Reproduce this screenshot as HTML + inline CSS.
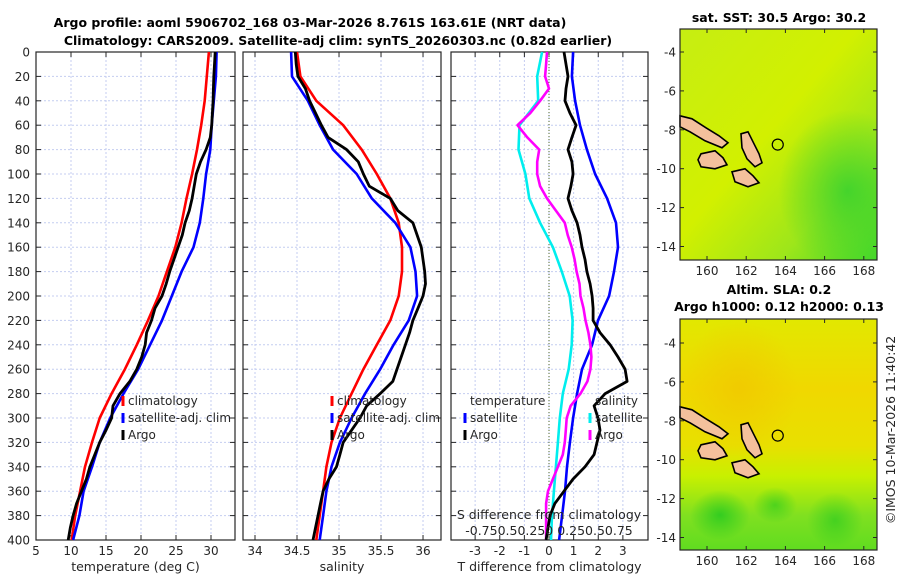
<!DOCTYPE html>
<html><head><meta charset="utf-8">
<style>
html,body{margin:0;padding:0;background:#fff;}
svg{display:block;font-family:"DejaVu Sans","Liberation Sans",sans-serif;}
</style></head>
<body>
<svg id="fig" width="900" height="580" viewBox="0 0 900 580">
<defs>
<linearGradient id="sstGrad" x1="0" y1="0" x2="1" y2="1">
<stop offset="0" stop-color="#c6ee12"/><stop offset="0.45" stop-color="#d2f000"/><stop offset="0.75" stop-color="#9ee61a"/><stop offset="1" stop-color="#44d82a"/>
</linearGradient>
<radialGradient id="sstGreen" cx="0.85" cy="0.7" r="0.35"><stop offset="0" stop-color="#30d030" stop-opacity="0.8"/><stop offset="1" stop-color="#30d030" stop-opacity="0"/></radialGradient>
<linearGradient id="slaGrad" x1="0" y1="0" x2="0" y2="1">
<stop offset="0" stop-color="#e2e800"/><stop offset="0.3" stop-color="#f0d800"/><stop offset="0.55" stop-color="#e8e000"/><stop offset="0.68" stop-color="#c8f000"/><stop offset="0.85" stop-color="#80e020"/><stop offset="1" stop-color="#60dc20"/>
</linearGradient>
<radialGradient id="slaOr" cx="0.3" cy="0.3" r="0.3"><stop offset="0" stop-color="#f0c800" stop-opacity="0.8"/><stop offset="1" stop-color="#f0c800" stop-opacity="0"/></radialGradient>
<radialGradient id="slaG1" cx="0.5" cy="0.5" r="0.5"><stop offset="0" stop-color="#20c820"/><stop offset="1" stop-color="#20c820" stop-opacity="0"/></radialGradient>
</defs>
<g id="root"></g>
</svg>
<script>
// ---------- data ----------
const depths20 = [0,20,40,60,80,100,120,140,160,180,200,220,240,260,280,300,320,340,360,380,400];
const depths10 = [0,10,20,30,40,50,60,70,80,90,100,110,120,130,140,150,160,170,180,190,200,210,220,230,240,250,260,270,280,290,300,310,320,330,340,350,360,370,380,390,400];
const tempClim = [29.7,29.4,29.1,28.6,28.0,27.3,26.5,25.8,24.9,23.7,22.5,21.0,19.4,17.7,15.8,14.1,13.0,12.0,11.3,10.6,10.1];
const tempSat  = [30.8,30.7,30.4,30.1,29.9,29.3,28.9,28.4,27.5,25.8,24.4,23.0,21.3,19.6,17.5,15.6,14.1,13.0,11.8,11.2,10.3];
const tempArgo = [30.6,30.5,30.4,30.35,30.3,30.2,30.1,29.9,29.3,28.5,27.9,27.6,27.3,26.9,26.3,25.9,25.3,24.7,24.1,23.6,23.0,22.0,21.5,20.8,20.6,20.1,19.4,18.4,17.0,16.0,15.8,15.0,14.1,13.4,12.7,12.2,11.5,10.8,10.3,9.9,9.6];
const salClim = [34.50,34.54,34.73,35.05,35.27,35.45,35.61,35.71,35.75,35.75,35.71,35.61,35.45,35.29,35.15,35.01,34.91,34.85,34.81,34.77,34.73];
const salSat  = [34.43,34.44,34.63,34.77,34.93,35.21,35.39,35.67,35.85,35.91,35.93,35.83,35.65,35.49,35.31,35.15,35.01,34.91,34.85,34.81,34.77];
const salArgo = [34.48,34.49,34.51,34.60,34.65,34.72,34.79,34.87,35.09,35.23,35.29,35.36,35.61,35.70,35.88,35.93,35.98,36.00,36.02,36.03,36.00,35.94,35.88,35.84,35.79,35.74,35.69,35.64,35.49,35.33,35.25,35.15,35.05,35.01,34.97,34.88,34.81,34.78,34.75,34.72,34.69];
const tDiffSat  = [0.98,0.93,1.06,1.26,1.54,1.87,2.36,2.72,2.80,2.64,2.44,1.99,1.75,1.34,1.14,0.98,0.85,0.73,0.65,0.53,0.41];
const tDiffArgo = [0.61,0.69,0.77,0.69,0.65,0.85,1.10,0.93,0.77,0.93,0.98,0.89,0.77,0.93,1.14,1.26,1.34,1.46,1.54,1.67,1.75,1.79,1.79,2.07,2.48,2.80,3.09,3.17,2.28,1.83,1.99,2.07,1.95,1.83,1.46,0.98,0.61,0.24,0.04,-0.04,-0.12];
const sDiffSat  = [-0.07,-0.12,-0.11,-0.30,-0.31,-0.24,-0.20,-0.09,0.04,0.13,0.21,0.24,0.23,0.20,0.14,0.11,0.09,0.07,0.05,0.03,0.02];
const sDiffArgo = [-0.02,-0.03,-0.04,0,-0.09,-0.19,-0.32,-0.22,-0.10,-0.12,-0.12,-0.09,-0.02,0.07,0.16,0.19,0.23,0.26,0.28,0.31,0.32,0.35,0.37,0.40,0.42,0.43,0.42,0.39,0.32,0.22,0.18,0.17,0.16,0.14,0.09,0.04,-0.01,-0.03,-0.03,-0.03,-0.03];
const depthTicks = [0,20,40,60,80,100,120,140,160,180,200,220,240,260,280,300,320,340,360,380,400];
const tempTicks = [5,10,15,20,25,30];
const salTicks = [34,34.5,35,35.5,36];
const salTickLabels = ["34","34.5","35","35.5","36"];
const diffTicks = [-3,-2,-1,0,1,2,3];
const sstLonTicks = [160,162,164,166,168];
const sstLatTicks = [-4,-6,-8,-10,-12,-14];

// ---------- helpers ----------
const NS="http://www.w3.org/2000/svg";
const root=document.getElementById('root');
function el(tag,attrs,parent){const e=document.createElementNS(NS,tag);for(const k in attrs)e.setAttribute(k,attrs[k]);(parent||root).appendChild(e);return e;}
function txt(s,attrs,parent){const e=el('text',attrs,parent);e.textContent=s;return e;}

const Y0=52, Y1=540;
const yScale=d=>Y0+(Y1-Y0)*d/400;
const FS=12;

function panel(name,x0,x1,vmin,vmax,ticks,labels,xlabel){
  const g=el('g',{});
  
  
  const xs=v=>x0+(x1-x0)*(v-vmin)/(vmax-vmin);
  depthTicks.forEach(d=>{const l=el('line',{x1:x0,x2:x1,y1:yScale(d),y2:yScale(d),stroke:'#c4cdf0','stroke-width':1,'stroke-dasharray':'2,2'},g);
    });
  ticks.forEach((t,i)=>{const l=el('line',{x1:xs(t),x2:xs(t),y1:Y0,y2:Y1,stroke:'#c4cdf0','stroke-width':1,'stroke-dasharray':'2,2'},g);
    
    el('line',{x1:xs(t),x2:xs(t),y1:Y1,y2:Y1-5,stroke:'#262626'},g);
    el('line',{x1:xs(t),x2:xs(t),y1:Y0,y2:Y0+5,stroke:'#262626'},g);
    const tl=txt(labels[i],{x:xs(t),y:555,'text-anchor':'middle','font-size':FS,fill:'#262626'},g);
    });
  depthTicks.forEach(d=>{el('line',{x1:x0,x2:x0+5,y1:yScale(d),y2:yScale(d),stroke:'#262626'},g);
    el('line',{x1:x1,x2:x1-5,y1:yScale(d),y2:yScale(d),stroke:'#262626'},g);});
  el('rect',{x:x0,y:Y0,width:x1-x0,height:Y1-Y0,fill:'none',stroke:'#262626','stroke-width':1.2},g);
  const xl=txt(xlabel,{x:(x0+x1)/2,y:571,'text-anchor':'middle','font-size':12.5,fill:'#262626'},g);
  
  return {g,xs};
}
function series(p,name,deps,vals,color,scale,w){
  const pts=vals.map((v,i)=>p.xs(v*(scale||1)).toFixed(1)+','+yScale(deps[i]).toFixed(1)).join(' ');
  const l=el('polyline',{points:pts,fill:'none',stroke:color,'stroke-width':w||2.6,'stroke-linejoin':'round'},p.g);
  
  
}
function legendEntry(p,name,x,y,color,label){
  const g=el('g',{},p.g);
  
  
  el('line',{x1:x,x2:x,y1:y-9,y2:y+1,stroke:color,'stroke-width':3},g);
  txt(label,{x:x+5,y:y,'font-size':FS,fill:'#262626'},g);
}

depthTicks.forEach(d=>{const t=txt(String(d),{x:30,y:yScale(d)+4.5,'text-anchor':'end','font-size':FS,fill:'#262626'});
  });

const p1=panel('temperature-panel',36,235,5,33.43,tempTicks,tempTicks.map(String),'temperature (deg C)');
series(p1,'temp-climatology-line',depths20,tempClim,'#ff0000');
series(p1,'temp-satellite-line',depths20,tempSat,'#0000ff');
series(p1,'temp-argo-line',depths10,tempArgo,'#000000',1,2.8);
legendEntry(p1,'legend-climatology',123,405,'#ff0000','climatology');
legendEntry(p1,'legend-satellite-adj',123,422,'#0000ff','satellite-adj. clim');
legendEntry(p1,'legend-argo',123,439,'#000000','Argo');

const p2=panel('salinity-panel',243,441,33.857,36.214,salTicks,salTickLabels,'salinity');
series(p2,'sal-climatology-line',depths20,salClim,'#ff0000');
series(p2,'sal-satellite-line',depths20,salSat,'#0000ff');
series(p2,'sal-argo-line',depths10,salArgo,'#000000',1,2.8);
legendEntry(p2,'legend-climatology-sal',332,405,'#ff0000','climatology');
legendEntry(p2,'legend-satellite-adj-sal',332,422,'#0000ff','satellite-adj. clim');
legendEntry(p2,'legend-argo-sal',332,439,'#000000','Argo');

const p3=panel('difference-panel',451,648,-3.98,4.02,diffTicks,diffTicks.map(String),'T difference from climatology');
const zl=el('line',{x1:p3.xs(0),x2:p3.xs(0),y1:Y0,y2:Y1,stroke:'#556b2f','stroke-width':1,'stroke-dasharray':'1,2'},p3.g);

series(p3,'tdiff-satellite-line',depths20,tDiffSat,'#0000ff');
series(p3,'sdiff-satellite-line',depths20,sDiffSat,'#00eeee',4);
series(p3,'sdiff-argo-line',depths10,sDiffArgo,'#ff00ff',4);
series(p3,'tdiff-argo-line',depths10,tDiffArgo,'#000000',1,2.8);
(function(){const t=txt('temperature',{x:470,y:405,'font-size':FS,fill:'#262626'},p3.g);
 const s=txt('salinity',{x:595,y:405,'font-size':FS,fill:'#262626'},p3.g);})();
legendEntry(p3,'legend-t-satellite',465,422,'#0000ff','satellite');
legendEntry(p3,'legend-t-argo',465,439,'#000000','Argo');
legendEntry(p3,'legend-s-satellite',590,422,'#00eeee','satellite');
legendEntry(p3,'legend-s-argo',590,439,'#ff00ff','Argo');
(function(){const a=txt('S difference from climatology',{x:549,y:519,'text-anchor':'middle','font-size':12.5,fill:'#262626'},p3.g);
 const b=txt('-0.750.50.250 0.250.50.75',{x:549,y:535,'text-anchor':'middle','font-size':12.5,fill:'#262626'},p3.g);})();

(function(){const t1=txt('Argo profile: aoml 5906702_168 03-Mar-2026 8.761S 163.61E (NRT data)',{x:310,y:27,'text-anchor':'middle','font-size':12.5,'font-weight':'bold',fill:'#000'});
 
 const t2=txt('Climatology: CARS2009. Satellite-adj clim: synTS_20260303.nc (0.82d earlier)',{x:338,y:45,'text-anchor':'middle','font-size':12.5,'font-weight':'bold',fill:'#000'});
 })();

function map(name,top,bottom,latTopPx,fillId,extra,titles){
  const x0=680,x1=877;
  const g=el('g',{});
  
  
  const lonX=lon=>707+(lon-160)*19.6;
  const latY=lat=>latTopPx+(-4-lat)*19.45;
  el('rect',{x:x0,y:top,width:x1-x0,height:bottom-top,fill:'url(#'+fillId+')'},g);
  extra(g,x0,top,x1,bottom);
  const dy=latY(-8)-130;
  const isl=[[[680,116],[692,119],[706,128],[719,136],[728,143],[722,148],[705,141],[690,132],[680,127]],
   [[741,134],[748,132],[754,144],[759,154],[762,163],[755,167],[747,159],[742,148]],
   [[701,154],[715,151],[723,158],[727,165],[715,169],[701,167],[698,160]],
   [[732,172],[745,169],[753,176],[759,183],[748,187],[735,182]]];
  isl.forEach(poly=>{const p=el('polygon',{points:poly.map(q=>q[0]+','+(q[1]+dy)).join(' '),fill:'#f4c09c',stroke:'#000','stroke-width':1.6},g);
    });
  const c=el('circle',{cx:lonX(163.61),cy:latY(-8.761),r:5.5,fill:'none',stroke:'#000','stroke-width':1.2},g);
  
  el('rect',{x:x0,y:top,width:x1-x0,height:bottom-top,fill:'none',stroke:'#262626','stroke-width':1.2},g);
  sstLatTicks.forEach(l=>{const y=latY(l);el('line',{x1:x0,x2:x0+4,y1:y,y2:y,stroke:'#262626'},g);el('line',{x1:x1,x2:x1-4,y1:y,y2:y,stroke:'#262626'},g);
    const t=txt(String(l),{x:676,y:y+4.5,'text-anchor':'end','font-size':FS,fill:'#262626'},g);});
  sstLonTicks.forEach(l=>{const x=lonX(l);el('line',{x1:x,x2:x,y1:bottom,y2:bottom-4,stroke:'#262626'},g);el('line',{x1:x,x2:x,y1:top,y2:top+4,stroke:'#262626'},g);
    const t=txt(String(l),{x:x,y:bottom+15,'text-anchor':'middle','font-size':FS,fill:'#262626'},g);});
  titles.forEach(tt=>{const t=txt(tt[0],{x:779,y:tt[1],'text-anchor':'middle','font-size':12.5,'font-weight':'bold',fill:'#000'},g);});
}
map('sst-map',29,260,52,'sstGrad',(g,x0,y0,x1,y1)=>{el('rect',{x:x0,y:y0,width:x1-x0,height:y1-y0,fill:'url(#sstGreen)'},g);},
  [['sat. SST: 30.5 Argo: 30.2',22]]);
map('sla-map',319,550,343,'slaGrad',(g,x0,y0,x1,y1)=>{el('rect',{x:x0,y:y0,width:x1-x0,height:y1-y0,fill:'url(#slaOr)'},g);
  el('ellipse',{cx:720,cy:515,rx:30,ry:25,fill:'url(#slaG1)',opacity:0.8},g);
  el('ellipse',{cx:775,cy:505,rx:22,ry:18,fill:'url(#slaG1)',opacity:0.6},g);
  el('ellipse',{cx:835,cy:520,rx:28,ry:28,fill:'url(#slaG1)',opacity:0.6},g);},
  [['Altim. SLA: 0.2',294],['Argo h1000: 0.12 h2000: 0.13',311]]);

const cr=txt('©IMOS 10-Mar-2026 11:40:42',{x:0,y:0,'text-anchor':'middle','font-size':12.5,fill:'#262626',transform:'translate(895,430) rotate(-90)'});


</script>
</body></html>
